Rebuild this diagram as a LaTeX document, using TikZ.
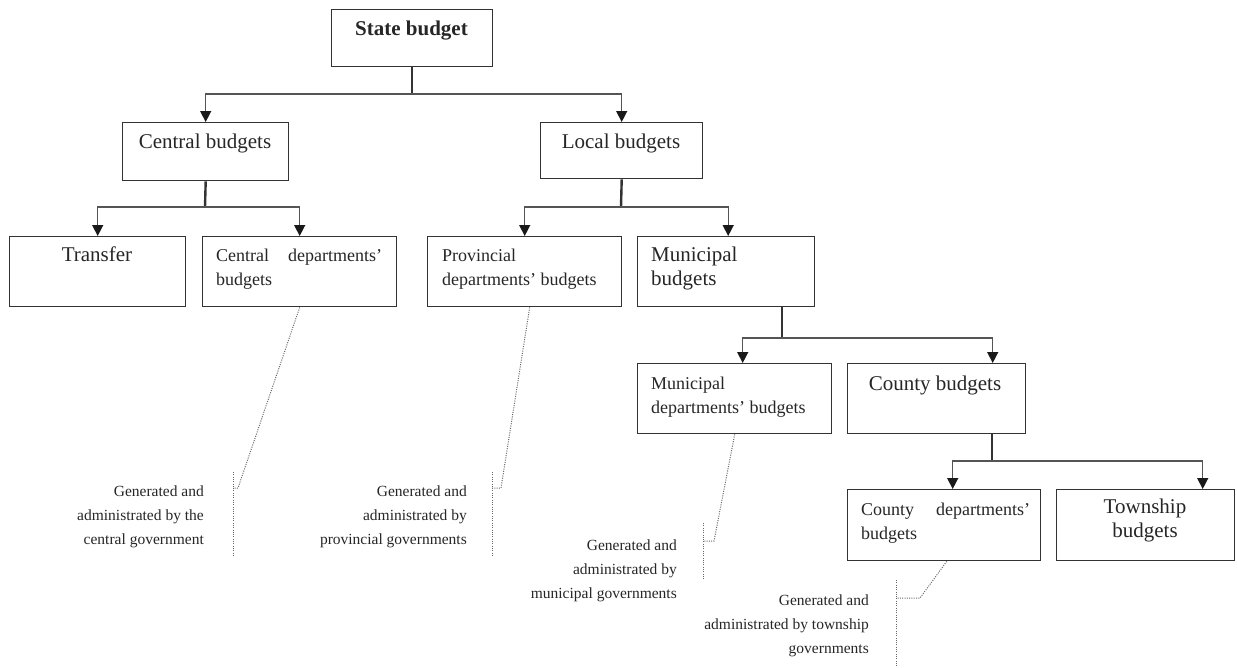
\documentclass[tikz,border=0pt]{standalone}
\usepackage{fontspec}
\setmainfont{Liberation Serif}
\usetikzlibrary{arrows.meta}
\definecolor{boxc}{HTML}{333333}
\definecolor{linec}{HTML}{555555}
\definecolor{dotc}{HTML}{666666}
\begin{document}
\begin{tikzpicture}[x=1pt,y=-1pt,
  bx/.style={draw=boxc,line width=1.4pt,inner sep=0pt,anchor=north west},
  big/.style={font=\fontsize{21}{24}\selectfont,inner sep=0pt,text=black!85},
  small/.style={font=\fontsize{18}{24}\selectfont,inner sep=0pt,text=black!85},
  note/.style={font=\fontsize{15.5}{24}\selectfont,inner sep=0pt,text=black!85,anchor=base east},
  stem/.style={draw=boxc,line width=2.4pt},
  arr/.style={draw=linec,line width=1.4pt,-{Triangle[length=11pt,width=11pt,color=black!90]}},
  dot/.style={draw=dotc,line width=1pt,dash pattern=on 1pt off 1.3pt}]
\useasboundingbox (0,0) rectangle (1237,667);
% boxes
\node[bx,minimum width=161pt,minimum height=57pt] (state) at (331,9) {};
\node[bx,minimum width=166pt,minimum height=58pt] (central) at (122,122) {};
\node[bx,minimum width=162pt,minimum height=56pt] (local) at (540,122) {};
\node[bx,minimum width=176pt,minimum height=70pt] (transfer) at (9,236) {};
\node[bx,minimum width=194pt,minimum height=70pt] (cdep) at (202,236) {};
\node[bx,minimum width=194pt,minimum height=70pt] (prov) at (427,236) {};
\node[bx,minimum width=177pt,minimum height=70pt] (mun) at (637,236) {};
\node[bx,minimum width=194pt,minimum height=70pt] (mdep) at (637,363) {};
\node[bx,minimum width=178pt,minimum height=70pt] (county) at (847,363) {};
\node[bx,minimum width=193pt,minimum height=71pt] (cdept) at (847,489) {};
\node[bx,minimum width=178pt,minimum height=71pt] (town) at (1056,489) {};
% texts
\node[big,anchor=base] (stateT) at (411.5,35) {\bfseries State budget};
\node[big,anchor=base] (centralT) at (205,148) {Central budgets};
\node[big,anchor=base] (localT) at (621,148) {Local budgets};
\node[big,anchor=base] (transferT) at (97,261) {Transfer};
\node[small,anchor=base west] (cdepT) at (216,261) {\parbox[t]{166pt}{\raggedright Central\hfill departments'\\budgets}};
\node[small,anchor=base west] (provT) at (442,261) {\parbox[t]{170pt}{\raggedright Provincial\\departments' budgets}};
\node[big,anchor=base west] (munT) at (651,261) {\parbox[t]{150pt}{\raggedright Municipal\\budgets}};
\node[small,anchor=base west] (mdepT) at (651,389) {\parbox[t]{170pt}{\raggedright Municipal\\departments' budgets}};
\node[big,anchor=base] (countyT) at (935,390) {County budgets};
\node[small,anchor=base west] (cdeptT) at (861,515) {\parbox[t]{169pt}{\raggedright County\hfill departments'\\budgets}};
\node[big,anchor=base] (townT) at (1145,513) {\parbox[t]{150pt}{\centering Township\\budgets}};
% notes
\node[note] (n1) at (204,496) {\parbox[t]{200pt}{\raggedleft Generated and\\administrated by the\\central government}};
\node[note] (n2) at (467,496) {\parbox[t]{200pt}{\raggedleft Generated and\\administrated by\\provincial governments}};
\node[note] (n3) at (677,550) {\parbox[t]{200pt}{\raggedleft Generated and\\administrated by\\municipal governments}};
\node[note] (n4) at (869,605) {\parbox[t]{200pt}{\raggedleft Generated and\\administrated by township\\governments}};
% junctions
\coordinate (j1) at (412,94);
\coordinate (j2) at (205,207);
\coordinate (j3) at (621,207);
\coordinate (j4) at (782,338);
\coordinate (j5) at (992,461);
% connectors
\draw[stem] (state.south -| j1) -- (j1);
\draw[arr] (j1) -| (central.north);
\draw[arr] (j1) -| (local.north);
\draw[stem] (central.south) -- (j2);
\draw[arr] (j2) -| (transfer.north);
\draw[arr] (j2) -| (cdep.north);
\draw[stem] (local.south) -- (j3);
\draw[arr] (j3) -| (prov.north);
\draw[arr] (j3) -| ([xshift=2pt]mun.north);
\draw[stem] (mun.south -| j4) -- (j4);
\draw[arr] (j4) -| ([xshift=8pt]mdep.north);
\draw[arr] (j4) -| ([xshift=56pt]county.north);
\draw[stem] (county.south -| j5) -- (j5);
\draw[arr] (j5) -| ([xshift=8.5pt]cdept.north);
\draw[arr] (j5) -| ([xshift=57pt]town.north);
% dotted leaders and brackets
\coordinate (k1) at (238,488); \coordinate (h1) at (233,488);
\coordinate (t1) at (233,472); \coordinate (e1) at (233,557);
\draw[dot] (cdep.south) -- (k1) -- (h1);
\draw[dot] (t1) -- (e1);
\coordinate (k2) at (501,488); \coordinate (h2) at (492,488);
\coordinate (t2) at (492,472); \coordinate (e2) at (492,557);
\draw[dot] ([xshift=5pt]prov.south) -- (k2) -- (h2);
\draw[dot] (t2) -- (e2);
\coordinate (k3) at (714,541); \coordinate (h3) at (703,541);
\coordinate (t3) at (703,523); \coordinate (e3) at (703,579);
\draw[dot] (mdep.south) -- (k3) -- (h3);
\draw[dot] (t3) -- (e3);
\coordinate (k4) at (920,598); \coordinate (h4) at (896,598);
\coordinate (t4) at (896,580); \coordinate (e4) at (896,667);
\draw[dot] ([xshift=2.5pt]cdept.south) -- (k4) -- (h4);
\draw[dot] (t4) -- (e4);
\end{tikzpicture}
\end{document}
